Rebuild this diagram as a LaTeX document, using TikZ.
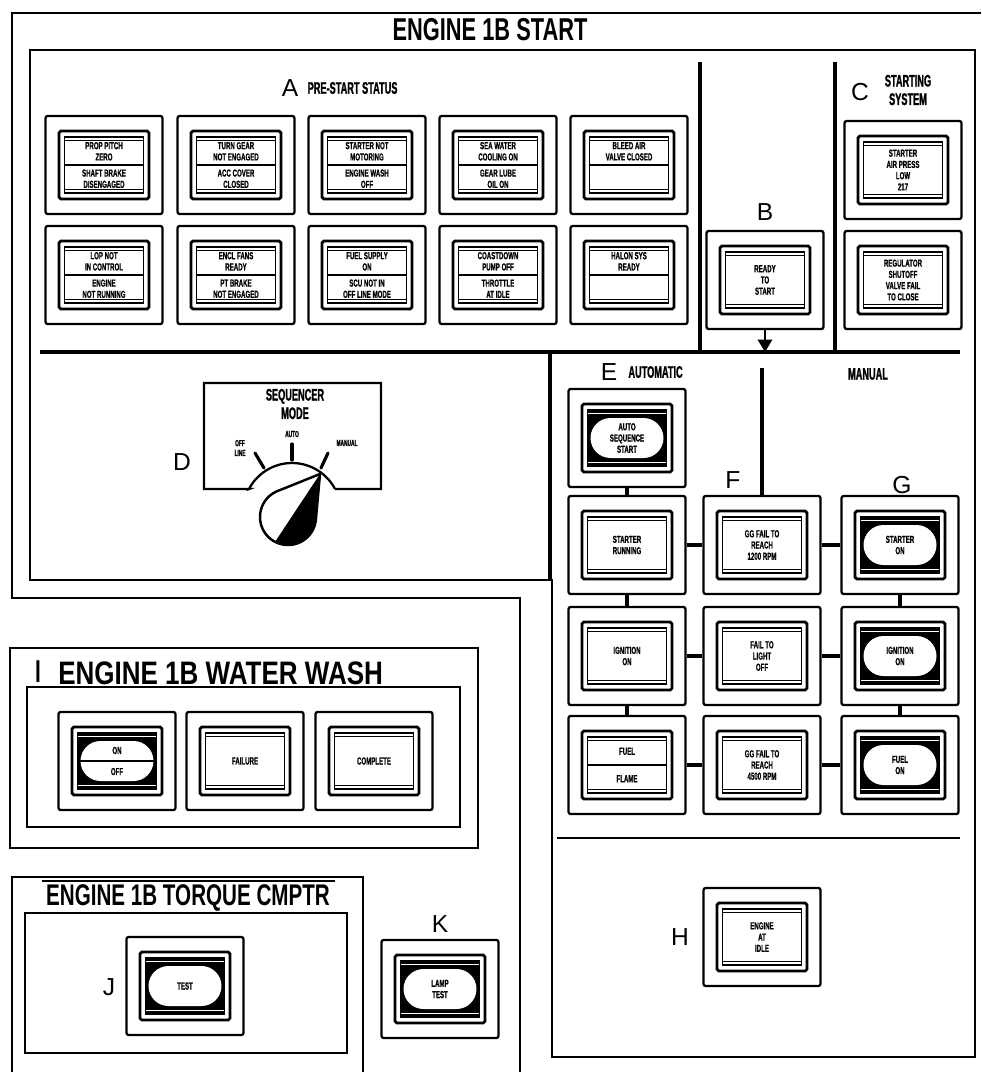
\documentclass[tikz,border=0pt]{standalone}
\usepackage{fontspec}
\setmainfont{Liberation Sans}
\newfontfamily\titlefont[FakeStretch=0.69]{Liberation Sans}
\newfontfamily\washfont[FakeStretch=0.8]{Liberation Sans}
\newfontfamily\headfont[FakeStretch=0.55,FakeBold=1.2]{Liberation Sans}
\newfontfamily\lampfont[FakeStretch=0.6,FakeBold=0.8]{Liberation Sans}
\usetikzlibrary{arrows.meta,shapes.misc,positioning,calc}

% ---- lamp building blocks ----
\newcommand{\lampbase}[3]{%
  \node[lampbox] (#1) at (#2) {};
  \node[bezel] (#1-b) at (#1.center) {};
  \node[lens,#3] (#1-l) at (#1.center) {};}
\newcommand{\bands}[2]{%
  \draw[#2, line width=0.7pt]
    ($(#1-l.north west)+(0.6pt,-2.4pt)$) -- ($(#1-l.north east)+(-0.6pt,-2.4pt)$)
    ($(#1-l.south west)+(0.6pt,2.4pt)$) -- ($(#1-l.south east)+(-0.6pt,2.4pt)$);}
\newcommand{\plainlamp}[3]{%
  \lampbase{#1}{#2}{}\bands{#1}{black}
  \node[lamptext] (#1-t) at (#1.center) {#3};}
\newcommand{\splitlamp}[4]{%
  \lampbase{#1}{#2}{}\bands{#1}{black}
  \draw[line width=0.7pt] (#1-l.west) -- (#1-l.east);
  \node[lamptext] (#1-t) at ($(#1.center)+(0pt,7.8pt)$) {#3};
  \node[lamptext] (#1-u) at ($(#1.center)+(0pt,-7.8pt)$) {#4};}
\newcommand{\ovallamp}[3]{%
  \lampbase{#1}{#2}{fill=black}\bands{#1}{white}
  \node[stadium] (#1-o) at (#1.center) {};
  \node[lamptext] (#1-t) at (#1.center) {#3};}
\newcommand{\ovalsplitlamp}[4]{%
  \lampbase{#1}{#2}{fill=black}\bands{#1}{white}
  \node[stadium] (#1-o) at (#1.center) {};
  \draw[line width=0.7pt] (#1-o.west) -- (#1-o.east);
  \node[lamptext] (#1-t) at ($(#1.center)+(0pt,6pt)$) {#3};
  \node[lamptext] (#1-u) at ($(#1.center)+(0pt,-6pt)$) {#4};}

\begin{document}
\begin{tikzpicture}[x=0.02cm, y=-0.02cm,
    panelline/.style={line width=0.9pt},
    bus/.style={line width=2.2pt},
    link/.style={line width=1.8pt},
    arr/.style={line width=1.6pt, -{Triangle[length=7pt,width=8pt]}},
    lampbox/.style={draw, line width=1.3pt, rounded corners=1.2pt,
                    minimum width=2.34cm, minimum height=1.96cm, inner sep=0pt},
    bezel/.style={draw, line width=1.6pt, rounded corners=1pt,
                  minimum width=1.8cm, minimum height=1.36cm, inner sep=0pt},
    lens/.style={draw, line width=0.9pt, minimum width=1.58cm,
                 minimum height=1.12cm, inner sep=0pt},
    stadium/.style={rounded rectangle, fill=white, minimum width=1.46cm,
                    minimum height=0.8cm, inner sep=0pt},
    lamptext/.style={font=\lampfont\bfseries\fontsize{5.8}{6.4}\selectfont,
                     align=center, inner sep=0pt},
    lettertag/.style={font=\fontsize{14}{14}\selectfont, inner sep=0pt},
    heading/.style={font=\headfont\bfseries\fontsize{9.5}{10.5}\selectfont,
                    align=center, inner sep=0pt},
    dialtext/.style={font=\headfont\bfseries\fontsize{5}{5.6}\selectfont,
                     align=center, inner sep=0pt},
    paneltitle/.style={font=\titlefont\bfseries\fontsize{17}{17}\selectfont, inner sep=0pt},
    dialtick/.style={line width=1.8pt, line cap=round},
  ]
  \useasboundingbox (0,0) rectangle (981,1072);

  % ---- frames ----
  \draw[panelline] (981,13) -- (12,13) -- (12,598) -- (520,598) -- (520,1072);
  \draw[panelline] (30,580) -- (30,50) -- (975,50) -- (975,1057) -- (552,1057) -- (552,580) -- cycle;
  \node[paneltitle, font=\titlefont\bfseries\fontsize{18}{18}\selectfont] (maintitle) at (490,30) {ENGINE 1B START};

  % ---- dividers ----
  \draw[bus] (40,352) -- (960,352);
  \draw[bus] (700,62) -- (700,352);
  \draw[bus] (835,62) -- (835,352);
  \draw[bus] (550,352) -- (550,580);
  \draw[panelline, line width=1.4pt] (557,838) -- (960,838);
  \coordinate (busline) at (0,352);

  % ---- A: pre-start status ----
  \node[lettertag] (tagA) at (290,88) {A};
  \node[heading, right=5pt of tagA] (prestart) {PRE-START STATUS};
  \splitlamp{a1}{104,165}{PROP PITCH\\ZERO}{SHAFT BRAKE\\DISENGAGED}
  \splitlamp{a2}{236,165}{TURN GEAR\\NOT ENGAGED}{ACC COVER\\CLOSED}
  \splitlamp{a3}{367,165}{STARTER NOT\\MOTORING}{ENGINE WASH\\OFF}
  \splitlamp{a4}{498,165}{SEA WATER\\COOLING ON}{GEAR LUBE\\OIL ON}
  \splitlamp{a5}{629,165}{BLEED AIR\\VALVE CLOSED}{}
  \splitlamp{a6}{104,275}{LOP NOT\\IN CONTROL}{ENGINE\\NOT RUNNING}
  \splitlamp{a7}{236,275}{ENCL FANS\\READY}{PT BRAKE\\NOT ENGAGED}
  \splitlamp{a8}{367,275}{FUEL SUPPLY\\ON}{SCU NOT IN\\OFF LINE MODE}
  \splitlamp{a9}{498,275}{COASTDOWN\\PUMP OFF}{THROTTLE\\AT IDLE}
  \splitlamp{a10}{629,275}{HALON SYS\\READY}{}

  % ---- B: ready to start ----
  \node[lettertag] (tagB) at (765,212) {B};
  \plainlamp{rdy}{765,280}{READY\\TO\\START}
  \draw[arr] (rdy) -- (rdy |- busline);

  % ---- C: starting system ----
  \node[lettertag] (tagC) at (860,92) {C};
  \node[heading] (startsys) at (908,90) {STARTING\\SYSTEM};
  \plainlamp{c1}{903,170}{STARTER\\AIR PRESS\\LOW\\217}
  \plainlamp{c2}{903,280}{REGULATOR\\SHUTOFF\\VALVE FAIL\\TO CLOSE}

  % ---- D: sequencer mode ----
  \node[lettertag] (tagD) at (182,462) {D};
  \draw[line width=1.3pt] (335,489) -- (381,489) -- (381,383) -- (204,383) -- (204,489) -- (249,489)
    -- plot[domain=207.7:332.3, samples=40] ({292+48.6*cos(\x)},{511.6+48.6*sin(\x)});
  \node[heading] (seqmode) at (295,404) {SEQUENCER\\MODE};
  \node[dialtext] (offline) at (240,448) {OFF\\LINE};
  \node[dialtext] (auto) at (292,434) {AUTO};
  \node[dialtext] (manualpos) at (347,443) {MANUAL};
  \draw[dialtick] (255,453) -- (264,468);
  \draw[dialtick] (292,444) -- (292,460);
  \draw[dialtick] (328,453) -- (321,468);
  \filldraw[fill=white, line width=1.4pt] (320,474)
    -- plot[domain=5.2:248.2, samples=60] ({288+28*cos(\x)},{517+28*sin(\x)}) -- cycle;
  \fill (320,474) -- plot[domain=5.2:117.5, samples=40] ({288+28*cos(\x)},{517+28*sin(\x)}) -- cycle;

  % ---- E/F/G: automatic and manual ----
  \node[lettertag] (tagE) at (609,372) {E};
  \node[heading, right=6pt of tagE] (automatic) {AUTOMATIC};
  \node[heading] (manual) at (868,374) {MANUAL};
  \node[lettertag] (tagF) at (733,480) {F};
  \node[lettertag] (tagG) at (902,485) {G};
  \ovallamp{e1}{627,438}{AUTO\\SEQUENCE\\START}
  \plainlamp{e2}{627,545}{STARTER\\RUNNING}
  \plainlamp{f1}{762,545}{GG FAIL TO\\REACH\\1200 RPM}
  \ovallamp{g1}{900,545}{STARTER\\ON}
  \plainlamp{e3}{627,656}{IGNITION\\ON}
  \plainlamp{f2}{762,656}{FAIL TO\\LIGHT\\OFF}
  \ovallamp{g2}{900,656}{IGNITION\\ON}
  \splitlamp{e4}{627,765}{FUEL}{FLAME}
  \plainlamp{f3}{762,765}{GG FAIL TO\\REACH\\4500 RPM}
  \ovallamp{g3}{900,765}{FUEL\\ON}
  \coordinate (fork) at (762,368);
  \draw[link] (fork) -- (f1);
  \draw[link] (e1) -- (e2); \draw[link] (e2) -- (e3); \draw[link] (e3) -- (e4);
  \draw[link] (g1) -- (g2); \draw[link] (g2) -- (g3);
  \draw[link] (e2) -- (f1); \draw[link] (f1) -- (g1);
  \draw[link] (e3) -- (f2); \draw[link] (f2) -- (g2);
  \draw[link] (e4) -- (f3); \draw[link] (f3) -- (g3);

  % ---- H: engine at idle ----
  \node[lettertag] (tagH) at (680,937) {H};
  \plainlamp{h1}{762,937}{ENGINE\\AT\\IDLE}

  % ---- I: water wash ----
  \draw[panelline] (10,648) rectangle (478,848);
  \draw[panelline] (27,687) rectangle (460,827);
  \node[lettertag, font=\fontsize{18}{18}\selectfont] (tagI) at (38,672) {I};
  \node[paneltitle, font=\washfont\bfseries\fontsize{18.5}{18.5}\selectfont, anchor=west]
    (washtitle) at (58,673) {ENGINE 1B WATER WASH};
  \ovalsplitlamp{ww1}{117,761}{ON}{OFF}
  \plainlamp{ww2}{245,761}{FAILURE}
  \plainlamp{ww3}{374,761}{COMPLETE}

  % ---- J/K: torque computer and lamp test ----
  \draw[panelline] (12,1072) -- (12,877) -- (363,877) -- (363,1072);
  \draw[panelline] (42,881) -- (335,881);
  \node[paneltitle] (torquetitle) at (188,898) {ENGINE 1B TORQUE CMPTR};
  \draw[panelline] (25,913) rectangle (347,1053);
  \node[lettertag] (tagJ) at (109,987) {J};
  \ovallamp{j1}{185,986}{TEST}
  \node[lettertag] (tagK) at (440,924) {K};
  \ovallamp{k1}{440,989}{LAMP\\TEST}
\end{tikzpicture}
\end{document}
